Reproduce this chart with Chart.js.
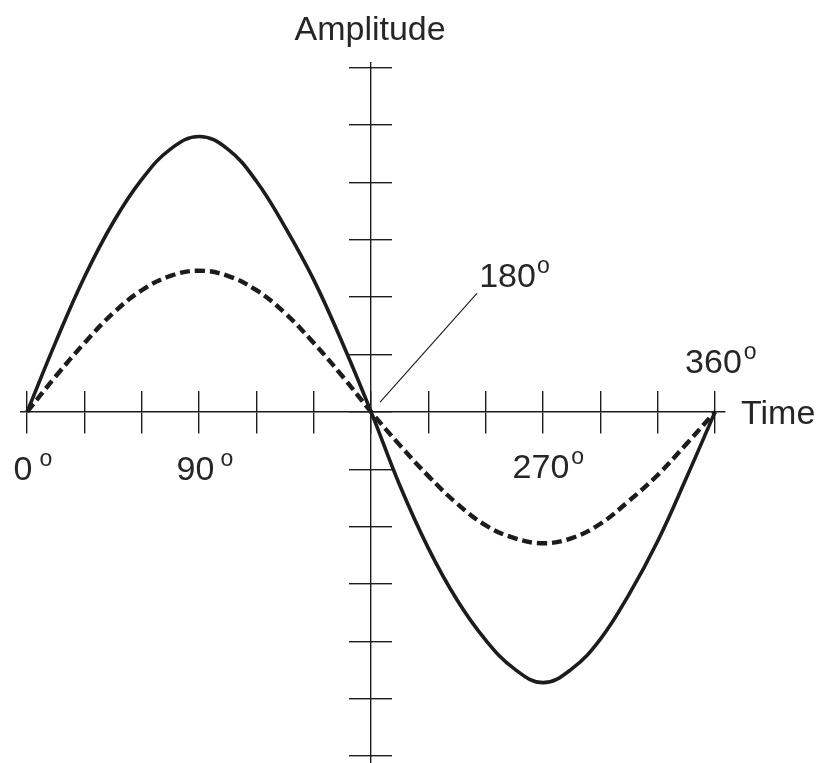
<!DOCTYPE html>
<html>
<head>
<meta charset="utf-8">
<script src="https://cdn.jsdelivr.net/npm/chart.js@4.4.1/dist/chart.umd.min.js"></script>
<style>
  html, body { margin: 0; padding: 0; background: #ffffff; }
  #wrap { width: 819px; height: 763px; }
</style>
</head>
<body>
<div id="wrap"><canvas id="wave" width="819" height="763"></canvas></div>
<script>
// Phase angle in degrees along the time axis
const angles = [0, 15, 30, 45, 60, 75, 90, 105, 120, 135, 150, 165, 180,
                195, 210, 225, 240, 255, 270, 285, 300, 315, 330, 345, 360];

// Larger waveform (solid line)
const fullWave = [0, 1.22, 2.35, 3.3, 4.05, 4.58, 4.8, 4.58, 4.02, 3.22, 2.3, 1.2, 0,
                  -1.28, -2.38, -3.28, -3.98, -4.48, -4.72, -4.48, -3.96, -3.18, -2.25, -1.15, 0];

// Smaller waveform (dashed line)
const halfWave = [0, 0.62, 1.2, 1.72, 2.12, 2.37, 2.46, 2.37, 2.12, 1.72, 1.2, 0.62, 0,
                  -0.58, -1.12, -1.6, -1.98, -2.2, -2.29, -2.2, -1.95, -1.55, -1.1, -0.56, 0];

// Tick marks on both axes
const timeTicks = [0, 30, 60, 90, 120, 150, 180, 210, 240, 270, 300, 330, 360];
const amplitudeTicks = [-6, -5, -4, -3, -2, -1, 0, 1, 2, 3, 4, 5, 6];

// Degree labels
const degreeLabels = ['0', '90', '180', '270', '360'];
const degreeValues = [0, 90, 180, 270, 360];

const INK = '#1c1c1c';
const TEXT = '#262626';
const FONT = '"Liberation Sans", Arial, sans-serif';

const toPoints = (xs, ys) => xs.map((a, i) => ({ x: a, y: ys[i] }));

function setTicks(values) {
  return scale => { scale.ticks = values.map(v => ({ value: v })); };
}

// Shared look of the crossing axes
function axisGrid(len) {
  return { drawOnChartArea: false, drawTicks: true, tickLength: len, color: INK, lineWidth: 1.4 };
}

// Text labels and the 180° pointer, placed through the scales
const annotate = {
  id: 'annotate',
  afterDraw(chart) {
    const { ctx } = chart;
    const x = chart.scales.x, y = chart.scales.y;
    const x0 = y.getPixelForValue(0);
    ctx.save();
    ctx.fillStyle = TEXT;
    ctx.textBaseline = 'alphabetic';

    // axis titles
    ctx.font = '34px ' + FONT;
    ctx.textAlign = 'center';
    ctx.fillText('Amplitude', x.getPixelForValue(180) - 1, 40);
    ctx.textAlign = 'left';
    ctx.fillText('Time', x.getPixelForValue(360) + 26, x0 + 12);

    // pointer line toward the 180° crossing
    const p1 = { x: x.getPixelForValue(184.7), y: y.getPixelForValue(0.17) };
    const p2 = { x: x.getPixelForValue(235.5), y: y.getPixelForValue(2.07) };
    ctx.strokeStyle = INK;
    ctx.lineWidth = 1.1;
    ctx.beginPath();
    ctx.moveTo(p1.x, p1.y);
    ctx.lineTo(p2.x, p2.y);
    ctx.stroke();

    // placement of each degree label: [left offset, baseline, gap before the degree mark]
    const place = [
      [x.getPixelForValue(0) - 13.5, x0 + 68, 7],
      [x.getPixelForValue(90) - 22.5, x0 + 68, 6],
      [p2.x + 2, p2.y - 6, 1],
      [x.getPixelForValue(270) - 30.5, x0 + 66, 2],
      [x.getPixelForValue(360) - 30, x0 - 39, 2]
    ];
    degreeLabels.forEach((txt, i) => {
      const [lx, by, gap] = place[i];
      ctx.font = '34px ' + FONT;
      ctx.fillText(txt, lx, by);
      const w = ctx.measureText(txt).width;
      ctx.font = '23px ' + FONT;
      ctx.fillText('o', lx + w + gap, by - 14);
    });
    ctx.restore();
  }
};

new Chart(document.getElementById('wave'), {
  type: 'line',
  data: {
    datasets: [
      {
        label: 'Full',
        data: toPoints(angles, fullWave),
        borderColor: INK,
        borderWidth: 3.6,
        pointRadius: 0,
        tension: 0.4,
        fill: false
      },
      {
        label: 'Half',
        data: toPoints(angles, halfWave),
        borderColor: INK,
        borderWidth: 4.4,
        borderDash: [10, 5],
        borderCapStyle: 'butt',
        pointRadius: 0,
        tension: 0.4,
        fill: false
      }
    ]
  },
  options: {
    responsive: false,
    animation: false,
    devicePixelRatio: 1,
    layout: { padding: { left: 21, right: 94, top: 63, bottom: 0 } },
    plugins: { legend: { display: false }, tooltip: { enabled: false } },
    scales: {
      x: {
        type: 'linear', min: -3.2, max: 365.2,
        position: { y: 0 },
        afterBuildTicks: setTicks(timeTicks),
        ticks: { display: false },
        grid: axisGrid(21),
        border: { display: true, color: INK, width: 1.4 }
      },
      xUp: {
        type: 'linear', axis: 'x', min: -3.2, max: 365.2,
        position: { y: 0 },
        afterBuildTicks: setTicks(timeTicks),
        ticks: { display: false },
        grid: axisGrid(-21),
        border: { display: false }
      },
      y: {
        type: 'linear', min: -6.12, max: 6.08,
        position: { x: 180 },
        afterBuildTicks: setTicks(amplitudeTicks),
        ticks: { display: false },
        grid: axisGrid(21),
        border: { display: true, color: INK, width: 1.4 }
      },
      yRight: {
        type: 'linear', axis: 'y', min: -6.12, max: 6.08,
        position: { x: 180 },
        afterBuildTicks: setTicks(amplitudeTicks),
        ticks: { display: false },
        grid: axisGrid(-21),
        border: { display: false }
      }
    }
  },
  plugins: [annotate]
});
</script>
</body>
</html>
